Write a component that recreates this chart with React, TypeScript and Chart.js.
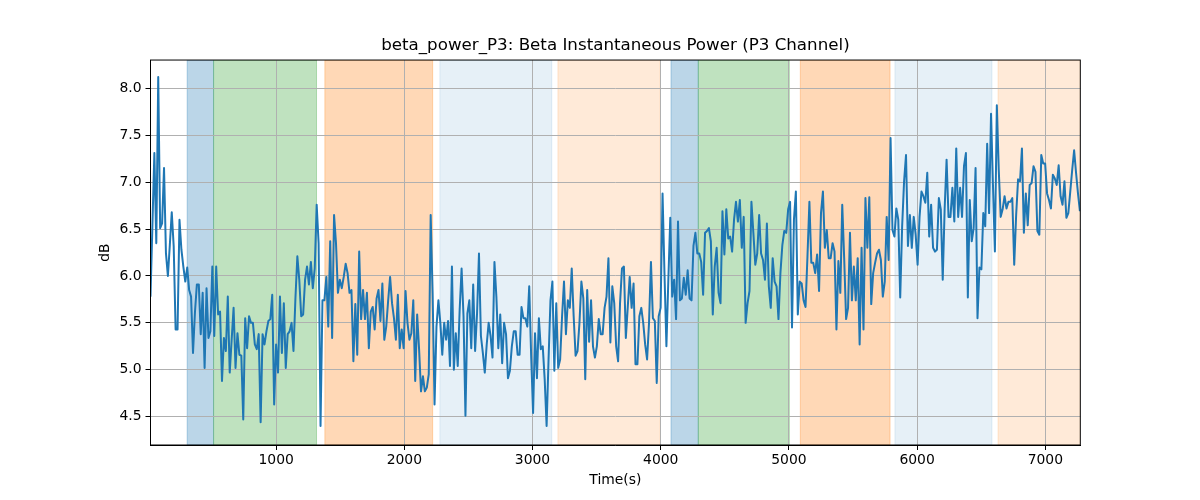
import React, { useEffect, useRef } from "react";
import { Chart, registerables } from "chart.js";

Chart.register(...registerables);

const TITLE = "beta_power_P3: Beta Instantaneous Power (P3 Channel)";
const X_LABEL = "Time(s)";
const Y_LABEL = "dB";

const T_START = 20;
const T_END = 7270;
const X_MIN = 20;
const X_MAX = 7273;
const Y_MIN = 4.198;
const Y_MAX = 8.302;

const xTicks = [1000, 2000, 3000, 4000, 5000, 6000, 7000];
const yTicks = [4.5, 5.0, 5.5, 6.0, 6.5, 7.0, 7.5, 8.0];

// Beta power (dB), sampled uniformly from T_START to T_END
const betaPower = [
  5.78, 6.55, 7.31, 6.35, 8.12, 6.51, 6.56, 7.15, 6.24, 6.0, 6.33,
  6.68, 6.32, 5.43, 5.43, 6.6, 6.28, 6.1, 5.94, 6.09, 5.85,
  5.78, 5.18, 5.61, 5.91, 5.91, 5.38, 5.82, 5.02, 5.87, 5.34,
  5.41, 6.1, 5.36, 6.1, 5.59, 5.62, 4.88, 5.34, 5.2, 5.78,
  4.97, 5.32, 5.66, 5.02, 5.39, 5.16, 5.15, 4.47,
  5.55, 5.23, 5.57, 5.5, 5.5, 5.27, 5.22, 5.38, 4.44, 5.38,
  5.27, 5.41, 5.52, 5.54, 5.8, 4.63, 5.27, 4.97, 5.78, 5.18,
  5.71, 5.02, 5.38, 5.41, 5.5, 5.2, 5.76, 6.21, 5.96, 5.57,
  5.59, 5.96, 6.1, 5.91, 6.15, 5.87, 6.08, 6.76, 6.35, 4.4,
  5.74, 5.74, 5.99, 5.46, 6.37, 5.34, 6.65,
  6.35, 5.82, 5.96, 5.87, 5.99, 6.13, 6.03, 5.82, 5.85, 5.09,
  5.7, 5.16, 6.26, 5.54, 5.85, 5.54, 5.82, 5.23, 5.62, 5.67,
  5.43, 5.76, 5.85, 5.52, 5.92, 5.32, 5.46, 5.74, 5.99, 5.71,
  5.55, 5.32, 5.8, 5.23, 5.43, 5.23, 5.84, 5.5, 5.32, 5.39, 5.74,
  4.88, 5.59, 5.22, 4.77, 4.93, 4.77,
  4.81, 4.95, 6.65, 5.82, 4.63, 5.46, 5.74, 5.5, 5.16, 5.5, 5.32,
  5.52, 5.04, 6.1, 5.0, 5.39, 5.04, 5.64, 6.08, 5.57, 4.51,
  5.6, 5.74, 5.23, 5.91, 5.2, 5.6, 6.24, 5.36, 5.18, 4.97,
  5.27, 5.5, 5.36, 5.13, 6.15, 5.78, 5.23, 5.59, 5.07, 5.5,
  5.38, 4.91, 4.99, 5.25, 5.41, 5.41, 5.16,
  5.16, 5.67, 5.55, 5.55, 5.46, 5.89, 5.15, 4.54, 5.39, 4.91, 5.55,
  5.22, 5.25, 4.9, 4.4, 5.11, 5.74, 5.94, 4.99, 5.71, 5.02,
  5.11, 5.57, 5.94, 5.38, 5.74, 5.66, 6.08, 5.57, 5.15, 5.2,
  5.5, 5.94, 5.76, 4.9, 5.85, 5.3, 5.74, 5.25, 5.13, 5.25,
  5.54, 5.38, 5.38, 5.66, 5.78, 6.19, 5.29,
  5.89, 5.71, 5.25, 5.09, 5.71, 6.08, 6.1, 5.34, 5.67, 5.99,
  5.66, 5.92, 5.06, 5.06, 5.57, 5.66, 5.5, 5.27, 5.11, 5.5,
  6.15, 5.55, 5.52, 4.86, 5.57, 5.66, 6.88, 6.03, 5.25, 5.96,
  6.62, 5.78, 5.96, 5.54, 6.58, 5.74, 5.76, 5.98, 5.8, 6.06,
  5.76, 5.74, 6.32, 6.46, 6.24, 6.24, 6.15, 5.8,
  6.46, 6.48, 6.51, 6.37, 5.59, 6.1, 6.3, 5.82, 5.71, 6.69,
  6.23, 6.71, 6.4, 6.42, 6.26, 6.6, 6.79, 6.58, 6.81, 6.3,
  6.63, 5.5, 5.71, 5.84, 6.79, 6.46, 6.12, 6.24, 6.65, 6.24,
  6.17, 5.96, 6.56, 5.89, 5.66, 6.19, 5.94, 5.89, 5.54, 6.03,
  6.33, 6.48, 6.46, 6.71, 6.79, 5.45, 6.6, 6.9,
  5.59, 5.94, 5.92, 5.74, 5.67, 6.21, 6.79, 6.14, 6.14, 6.03,
  6.23, 5.84, 6.67, 6.9, 6.3, 6.49, 6.19, 6.19, 6.35, 6.26,
  5.43, 6.16, 5.82, 6.76, 6.19, 5.54, 5.66, 6.46, 5.74, 6.1,
  5.74, 6.19, 5.27, 6.3, 5.43, 6.83, 6.3, 6.84, 5.7, 6.03,
  6.14, 6.24, 6.28, 6.17, 5.78, 5.94, 6.63, 6.17,
  7.47, 6.49, 6.42, 6.72, 6.6, 5.77, 6.53, 7.01, 7.29, 6.32,
  6.65, 6.3, 6.63, 6.44, 6.12, 6.63, 6.9, 6.85, 6.78, 7.1,
  6.42, 6.76, 6.3, 6.26, 6.28, 6.83, 6.71, 5.96, 6.72, 7.24,
  6.63, 6.63, 6.94, 6.58, 7.36, 6.63, 6.94, 6.63, 7.17, 7.31,
  5.77, 6.81, 6.37, 6.51, 7.15, 5.55,
  6.09, 6.07, 6.67, 6.53, 7.41, 6.67, 7.73, 6.97, 6.26, 7.82,
  7.13, 6.63, 6.71, 6.85, 6.72, 6.79, 6.79, 6.83, 6.12, 6.65,
  7.03, 7.01, 7.36, 6.46, 6.88, 6.54, 6.97, 6.99, 7.17, 7.11,
  6.48, 6.44, 7.29, 7.2, 7.2, 6.88, 6.81, 6.72, 7.08, 7.04,
  6.97, 7.18, 6.85, 6.76, 7.01, 6.62, 6.67, 6.9, 7.13, 7.34,
  7.1, 6.88, 6.69,
];

// Shaded phase intervals (seconds)
const spanStart = [306, 512, 1380, 2277, 3198, 4080, 4293, 5089, 5827, 6631];
const spanEnd = [512, 1315, 2221, 3150, 3996, 4293, 5003, 5789, 6584, 7273];
const spanColor = [
  "rgba(31,119,180,0.3)",
  "rgba(44,160,44,0.3)",
  "rgba(255,127,14,0.3)",
  "rgba(31,119,180,0.11)",
  "rgba(255,127,14,0.16)",
  "rgba(31,119,180,0.3)",
  "rgba(44,160,44,0.3)",
  "rgba(255,127,14,0.3)",
  "rgba(31,119,180,0.11)",
  "rgba(255,127,14,0.16)",
];

const spansPlugin = {
  id: "spans",
  beforeDraw(chart: any) {
    const { ctx, chartArea, scales } = chart;
    const x = scales.x;
    ctx.save();
    ctx.beginPath();
    ctx.rect(chartArea.left, chartArea.top, chartArea.width, chartArea.height);
    ctx.clip();
    for (let i = 0; i < spanStart.length; i++) {
      const x0 = x.getPixelForValue(spanStart[i]);
      const x1 = x.getPixelForValue(spanEnd[i]);
      ctx.fillStyle = spanColor[i];
      ctx.fillRect(x0, chartArea.top, x1 - x0, chartArea.height);
      ctx.strokeStyle = spanColor[i];
      ctx.lineWidth = 1;
      ctx.strokeRect(x0, chartArea.top, x1 - x0, chartArea.height);
    }
    ctx.restore();
  },
};

const framePlugin = {
  id: "frame",
  afterDraw(chart: any) {
    const { ctx, chartArea } = chart;
    ctx.save();
    ctx.strokeStyle = "#000";
    ctx.lineWidth = 1;
    ctx.strokeRect(chartArea.left, chartArea.top, chartArea.width, chartArea.height);
    ctx.restore();
  },
};

export default function App() {
  const canvasRef = useRef<HTMLCanvasElement | null>(null);

  useEffect(() => {
    if (!canvasRef.current) return;
    Chart.defaults.font.family = "'DejaVu Sans', sans-serif";
    Chart.defaults.color = "#000";
    const n = betaPower.length;
    const step = (T_END - T_START) / (n - 1);
    const points = betaPower.map((v, i) => ({ x: T_START + i * step, y: v }));

    const chart = new Chart(canvasRef.current, {
      type: "line",
      data: {
        datasets: [
          {
            data: points,
            borderColor: "#1f77b4",
            borderWidth: 2,
            pointRadius: 0,
            tension: 0,
            fill: false,
            borderJoinStyle: "round",
          },
        ],
      },
      options: {
        responsive: false,
        animation: false,
        events: [],
        layout: { padding: { left: 0, right: 119.7, top: 0, bottom: 0 } },
        plugins: {
          legend: { display: false },
          tooltip: { enabled: false },
          title: {
            display: true,
            fullSize: false,
            text: TITLE,
            color: "#000",
            font: { size: 16.7, weight: "normal" },
            padding: { top: 36, bottom: 4 },
          },
        },
        scales: {
          x: {
            type: "linear",
            min: X_MIN,
            max: X_MAX,
            afterBuildTicks: (s: any) => {
              s.ticks = xTicks.map((v) => ({ value: v }));
            },
            afterFit: (s: any) => {
              s.height = 55;
            },
            ticks: {
              callback: (v: any) => String(v),
              font: { size: 13.9 },
              color: "#000",
              padding: 2,
              maxRotation: 0,
              autoSkip: false,
            },
            grid: {
              color: "#b0b0b0",
              lineWidth: 1,
              drawTicks: true,
              tickLength: 5,
              tickColor: "#000",
              tickWidth: 1,
            },
            border: { color: "#000", width: 1 },
            title: {
              display: true,
              text: X_LABEL,
              color: "#000",
              font: { size: 13.9 },
              padding: { top: 0, bottom: 11 },
            },
          },
          y: {
            type: "linear",
            min: Y_MIN,
            max: Y_MAX,
            afterBuildTicks: (s: any) => {
              s.ticks = yTicks.map((v) => ({ value: v }));
            },
            afterFit: (s: any) => {
              s.width = 150.5;
            },
            ticks: {
              callback: (v: any) => Number(v).toFixed(1),
              font: { size: 13.9 },
              color: "#000",
              padding: 4,
              autoSkip: false,
            },
            grid: {
              color: "#b0b0b0",
              lineWidth: 1,
              drawTicks: true,
              tickLength: 5,
              tickColor: "#000",
              tickWidth: 1,
            },
            border: { color: "#000", width: 1 },
            title: {
              display: true,
              text: Y_LABEL,
              color: "#000",
              font: { size: 13.9 },
              padding: { top: 97, bottom: 0 },
            },
          },
        },
      },
      plugins: [spansPlugin, framePlugin],
    } as any);

    return () => chart.destroy();
  }, []);

  return (
    <div style={{ position: "absolute", left: 0, top: 0, width: 1200, height: 500, background: "#fff" }}>
      <canvas ref={canvasRef} width={1200} height={500} style={{ display: "block" }} />
    </div>
  );
}
